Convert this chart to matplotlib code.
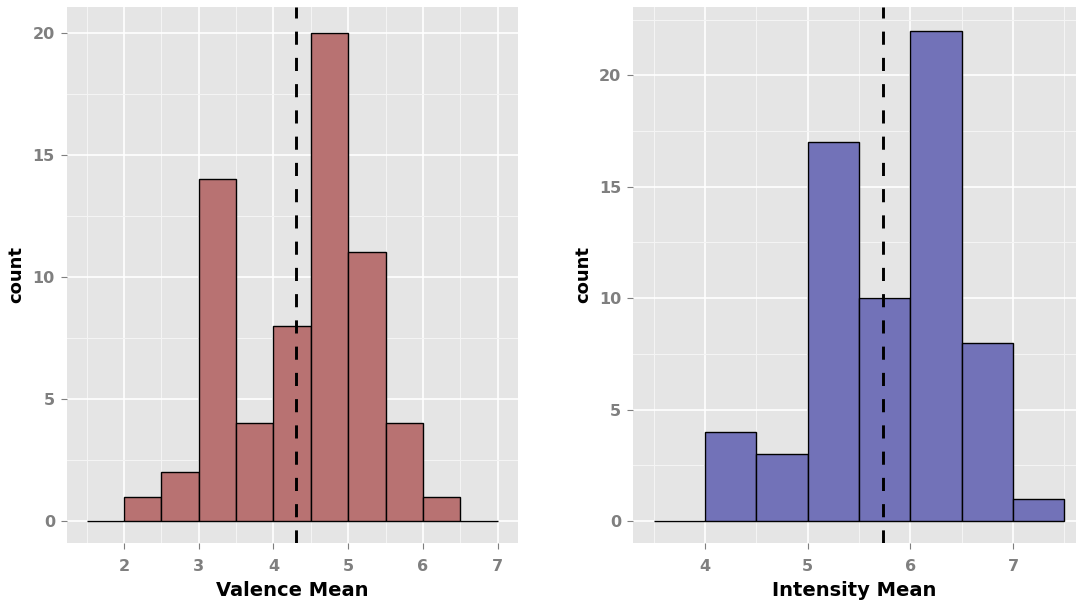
import matplotlib
matplotlib.use("Agg")
import matplotlib.pyplot as plt
from matplotlib.ticker import MultipleLocator

# histogram bins (left edges, width 0.5) and counts
valence_bins = [1.5, 2.0, 2.5, 3.0, 3.5, 4.0, 4.5, 5.0, 5.5, 6.0, 6.5]
valence_counts = [0, 1, 2, 14, 4, 8, 20, 11, 4, 1, 0]
valence_mean = 4.30

intensity_bins = [3.5, 4.0, 4.5, 5.0, 5.5, 6.0, 6.5, 7.0]
intensity_counts = [0, 4, 3, 17, 10, 22, 8, 1]
intensity_mean = 5.73

bin_width = 0.5

plt.rcParams["font.family"] = "DejaVu Sans"
plt.rcParams["font.weight"] = "bold"

panel_bg = "#E5E5E5"
tick_grey = "#7F7F7F"


def draw_hist(ax, bins, counts, mean, fill, xlabel, xlim, ylim, xticks):
    ax.set_facecolor(panel_bg)
    ax.set_axisbelow(True)
    ax.bar(bins, counts, width=bin_width, align="edge", color=fill,
           edgecolor="black", linewidth=1.0, zorder=2)
    ax.axvline(mean, color="black", linewidth=2.1, linestyle=(0, (4.5, 4.5)), zorder=3)

    ax.set_xlim(*xlim)
    ax.set_ylim(*ylim)
    ax.set_xticks(xticks)
    ax.set_xticks([t + 0.5 for t in range(int(xlim[0]) - 1, int(xlim[1]) + 1)
                   if xlim[0] < t + 0.5 < xlim[1]], minor=True)
    ax.yaxis.set_major_locator(MultipleLocator(5))
    ax.set_yticks([t + 2.5 for t in range(0, 25, 5) if t + 2.5 < ylim[1]], minor=True)

    ax.grid(which="major", color="white", linewidth=1.2)
    ax.grid(which="minor", color="#F4F4F4", linewidth=0.8)

    for s in ax.spines.values():
        s.set_visible(False)
    ax.tick_params(which="major", length=4.5, width=0.8, color=tick_grey,
                   labelcolor=tick_grey, labelsize=11.5)
    ax.tick_params(axis="x", which="major", pad=6.5)
    ax.tick_params(axis="y", which="major", pad=4)
    ax.tick_params(which="minor", length=0)
    for lab in ax.get_xticklabels() + ax.get_yticklabels():
        lab.set_fontweight("bold")

    ax.set_xlabel(xlabel, fontsize=14, fontweight="bold", labelpad=5)
    ax.set_ylabel("count", fontsize=13, fontweight="bold", labelpad=5)


fig = plt.figure(figsize=(10.76, 6.09), dpi=100)
ax1 = fig.add_axes([0.0620, 0.1079, 0.4196, 0.8811])
ax2 = fig.add_axes([0.5883, 0.1079, 0.4117, 0.8811])

draw_hist(ax1, valence_bins, valence_counts, valence_mean, "#B87272",
          "Valence Mean", (1.233, 7.275), (-0.91, 21.06), [2, 3, 4, 5, 6, 7])
draw_hist(ax2, intensity_bins, intensity_counts, intensity_mean, "#7272B8",
          "Intensity Mean", (3.3, 7.613), (-1.0, 23.08), [4, 5, 6, 7])

fig.savefig("out.png", dpi=100)
